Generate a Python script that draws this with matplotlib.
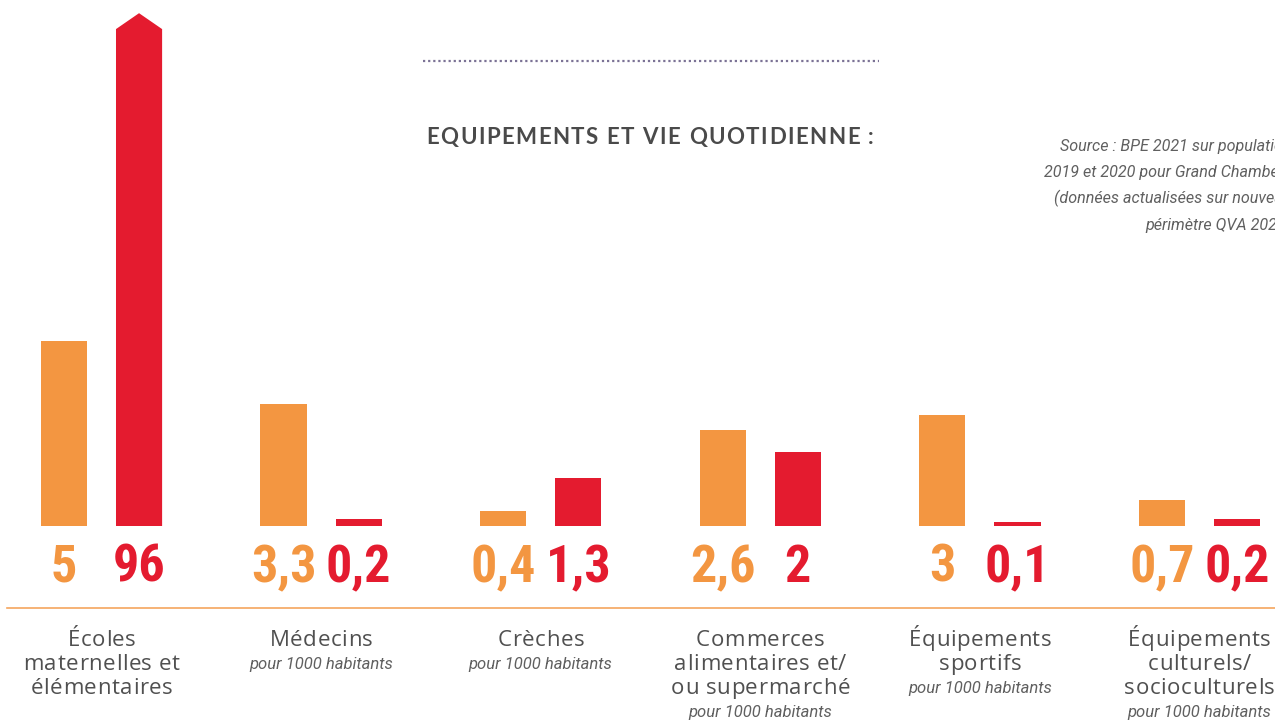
import os
import matplotlib
matplotlib.use("Agg")
import matplotlib.pyplot as plt
from matplotlib import font_manager
from matplotlib.font_manager import FontProperties, findfont, get_font
from matplotlib.patches import Polygon
from matplotlib.transforms import blended_transform_factory

# Équipements pour 1000 habitants : quartier (orange) / référence (rouge)
categories = ["Écoles\nmaternelles et\nélémentaires", "Médecins", "Crèches",
              "Commerces\nalimentaires et/\nou supermarché",
              "Équipements\nsportifs", "Équipements\nculturels/\nsocioculturels"]
sous_titres = ["", "pour 1000 habitants", "pour 1000 habitants",
               "pour 1000 habitants", "pour 1000 habitants", "pour 1000 habitants"]
valeurs_orange = [5, 3.3, 0.4, 2.6, 3, 0.7]
valeurs_rouge = [96, 0.2, 1.3, 2, 0.1, 0.2]

titre = "EQUIPEMENTS ET VIE QUOTIDIENNE :"
source = ["Source : BPE 2021 sur population", "2019 et 2020 pour Grand Chambéry",
          "(données actualisées sur nouveau", "périmètre QVA 2024)"]

ORANGE = "#F39641"
ROUGE = "#E41B2F"
GRIS = "#505050"


def police_etroite():
    fichiers = [f.fname for f in font_manager.fontManager.ttflist]
    fichiers += font_manager.findSystemFonts()
    for motif in ["RobotoCondensed-Bold.", "LiberationSansNarrow-Bold.",
                  "DejaVuSansCondensed-Bold."]:
        for f in fichiers:
            if os.path.basename(f).startswith(motif):
                return FontProperties(fname=f), motif
    return FontProperties(family="Roboto", weight="bold"), "Roboto"


chiffres_fp, chiffres_nom = police_etroite()
chiffres_fp.set_size(33 if chiffres_nom.startswith("DejaVu") else 37.5)

W, H = 1275, 722
fig = plt.figure(figsize=(W / 100, H / 100), dpi=100)
ax = fig.add_axes([0, 0, 1, 1])
ax.set_axis_off()

# une unité de groupe = 219.6 px, 37 px par unité de valeur, base à 526 px du haut
ax.set_xlim(-101.5 / 219.6, (W - 101.5) / 219.6)
ax.set_ylim(-(H - 526) / 37, 526 / 37)


def py(px):
    # position verticale en fraction de figure à partir des pixels depuis le haut
    return 1 - px / H


def texte_espace(xc, y, s, fp, espacement, color):
    # texte centré sur xc (pixels) avec un interlettrage supplémentaire
    font = get_font(findfont(fp))
    font.set_size(fp.get_size_in_points(), fig.dpi)
    avances = [font.load_char(ord(ch)).linearHoriAdvance / 65536 for ch in s]
    total = sum(avances) + espacement * (len(s) - 1)
    x = xc - total / 2
    for ch, a in zip(s, avances):
        if ch != " ":
            fig.text(x / W, y, ch, ha="left", va="baseline", fontproperties=fp,
                     color=color)
        x += a + espacement


decal = 0.171
largeur = 0.21
plafond = 13.43  # les barres plus hautes sont coupées en flèche

trans = blended_transform_factory(ax.transData, fig.transFigure)
cat_fp = FontProperties(family="Open Sans", size=16)
sous_fp = FontProperties(family="Roboto", style="italic", size=12)
source_fp = FontProperties(family="Roboto", style="italic", size=11.6)


def fmt(v):
    return f"{v:g}".replace(".", ",")


for i, (vo, vr) in enumerate(zip(valeurs_orange, valeurs_rouge)):
    for x, v, c in [(i - decal, vo, ORANGE), (i + decal, vr, ROUGE)]:
        if v > plafond:
            l, r = x - largeur / 2, x + largeur / 2
            ax.add_patch(Polygon([(l, 0), (l, plafond), (x, plafond + 0.43),
                                  (r, plafond), (r, 0)], closed=True,
                                 facecolor=c, edgecolor="none"))
        else:
            ax.bar(x, v, width=largeur, color=c, linewidth=0)
        ax.text(x, py(582), fmt(v), transform=trans, ha="center", va="baseline",
                fontproperties=chiffres_fp, color=c)

    xc = ax.transData.transform((i, 0))[0]
    lignes = categories[i].split("\n")
    for k, ligne in enumerate(lignes):
        texte_espace(xc, py(646 + 24 * k), ligne, cat_fp, 0.6, GRIS)
    if sous_titres[i]:
        ax.text(i, py(669 + 24 * (len(lignes) - 1)), sous_titres[i], transform=trans,
                ha="center", va="baseline", fontproperties=sous_fp, color="#606060")

# ligne de base orange
fig.add_artist(plt.Line2D([7 / W, 1], [py(608), py(608)], color="#F5A55E", lw=1.2))

# titre et filet pointillé
fig.add_artist(plt.Line2D([423 / W, 879 / W], [py(61), py(61)], color="#7B7295",
                          lw=1.6, linestyle=(0, (1, 1.3))))
texte_espace(650, py(144), titre,
             FontProperties(family="Lato", weight="bold", size=16), 1.5, "#4A4A4A")

for k, ligne in enumerate(source):
    fig.text(1291 / W, py(151 + 26.3 * k), ligne, ha="right", va="baseline",
             fontproperties=source_fp, color="#606060")

fig.savefig("out.png", dpi=100)
